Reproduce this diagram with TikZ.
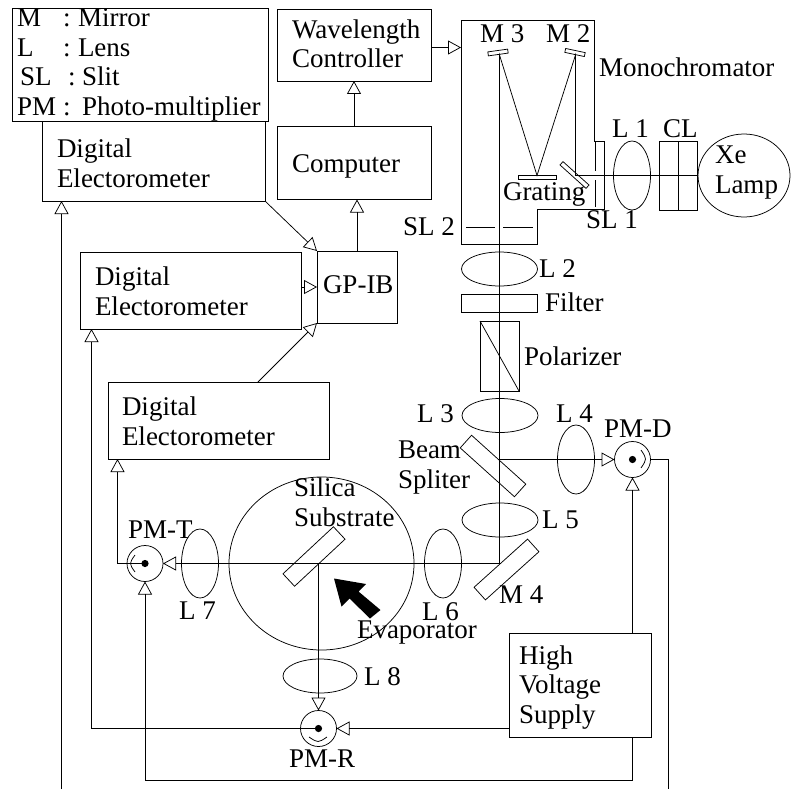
\documentclass[tikz,border=0pt]{standalone}
\usepackage{fontspec}
\setmainfont{Liberation Serif}
\usetikzlibrary{arrows.meta,shapes.geometric}

\begin{document}
\begin{tikzpicture}[x=1pt, y=-1pt, line width=0.75pt, >={Triangle[open,length=13pt,width=14pt]},
	every node/.style={font=\fontsize{27}{29.3}\selectfont, inner sep=0pt, outer sep=0pt},
	lab/.style={anchor=base west, align=left},
	boxnode/.style={draw, rectangle},
	lensh/.style={draw, ellipse, minimum width=76pt, minimum height=34pt},
	lensv/.style={draw, ellipse, minimum width=37pt, minimum height=69pt},
	plate/.style={draw, rectangle, minimum width=#1, minimum height=17pt},
	pm/.style={draw, circle, minimum size=36pt}]
	\useasboundingbox (0,0) rectangle (791,789);
	% instrument boxes
	\foreach \nm/\x/\y/\w/\h in {legend/140/64.5/256/113, de1/153.5/161/223/80, de2/190.5/290.5/221/77, de3/218.5/420.5/221/77, wc/354/45/154/72, comp/354/163/154/73, gp/357/287/80/72, hv/580/685/142/104, cl/678/175.5/38/69, filter/499/303/76/18, pol/499.5/356/39/70}
		{\node[boxnode, minimum width=\w pt, minimum height=\h pt] (\nm) at (\x,\y) {};}
	% lenses, lamp, chamber
	\foreach \nm/\x/\y in {l2/499.5/269, l3/500/415.5, l5/500/520} {\node[lensh] (\nm) at (\x,\y) {};}
	\node[lensh, minimum width=74pt] (l8) at (320,676) {};
	\foreach \nm/\x/\y in {l1/632/175.5, l4/576/459.5, l6/443/563.5, l7/200/563.5} {\node[lensv] (\nm) at (\x,\y) {};}
	\node[draw, ellipse, minimum width=92pt, minimum height=83pt] (xe) at (744,175.5) {};
	\node[draw, ellipse, minimum width=185pt, minimum height=173pt] (chamber) at (321.5,563.5) {};
	% monochromator
	\draw (461.5,20.5) -- (594.5,20.5) -- (594.5,141.5) -- (604.5,141.5) -- (604.5,209.5) -- (537.5,209.5) -- (537.5,244.5) -- (461.5,244.5) -- cycle;
	\draw (595.5,142) -- (595.5,171) (595.5,180) -- (595.5,207);
	\draw (466,227.5) -- (495,227.5) (503,227.5) -- (533,227.5);
	\draw (pol.north west) -- (pol.south east);
	\draw (cl.north) -- (cl.south);
	% mirrors
	\node[plate=20pt, minimum height=4pt, rotate=8] (m3) at (498,52.5) {};
	\node[plate=20pt, minimum height=4pt, rotate=-12] (m2) at (575,52.5) {};
	\node[plate=38pt, minimum height=4pt] (grating) at (537.5,177) {};
	\node[plate=35pt, minimum height=4.5pt, rotate=-42] (m1) at (574.5,175) {};
	\node[plate=73pt, rotate=-42] (splitter) at (493,466) {};
	\node[plate=72pt, rotate=42] (m4) at (506.5,569.5) {};
	\node[plate=69pt, rotate=43] (substrate) at (314,556.5) {};
	% photomultipliers
	\node[pm] (pmt) at (145,563.5) {};
	\node[pm] (pmr) at (318.5,728.5) {};
	\node[pm] (pmd) at (632.5,459.5) {};
	\foreach \nm in {pmt,pmr,pmd} {\fill (\nm.center) circle (3.6pt);}
	\draw (135,555) .. controls (129,563.5) .. (135,572);
	\draw (309,737) .. controls (318,743) .. (327,737);
	\draw (641,450) .. controls (647,459) .. (641,468);
	% light path
	\coordinate (m3hit) at (499.5,55);
	\coordinate (m2hit) at (575.5,55);
	\coordinate (grhit) at (537,175.5);
	\coordinate (m1hit) at (575.5,175.5);
	\coordinate (m4hit) at (499.5,563.5);
	\coordinate (bshit) at (499.5,459.5);
	\coordinate (subhit) at (318.5,563.5);
	\draw (xe.west) -- (m1hit) -- (m2hit) -- (grhit) -- (m3hit) -- (m4hit);
	\draw (bshit) -- (l4.east);
	\draw[->] (l4.east) -- (pmd.west);
	\draw[->] (m4hit) -- (pmt.east);
	\draw[->] (subhit) -- (pmr.north);
	% signal lines
	\coordinate (monoin) at (461,47.5);
	\coordinate (bus1) at (61.5,789);
	\coordinate (bus2) at (668.5,789);
	\coordinate (busb) at (400,780.5);
	\coordinate (pmrout) at (91.5,728.5);
	\coordinate (pmtout) at (117.5,563.5);
	\draw[->] (wc.east |- monoin) -- (monoin);
	\draw[->] (comp.north) -- (wc.south);
	\draw[->] (gp.north) -- (gp.north |- comp.south);
	\draw[->] (de1.south east) -- (gp.north west);
	\draw[->] (de2.east |- gp.west) -- (gp.west);
	\draw[->] ([xshift=39.5pt]de3.north) -- (gp.south west);
	\draw[->] (bus1) -- (bus1 |- de1.south);
	\draw[->] (pmr.center) -- (pmrout) -- (pmrout |- de2.south);
	\draw[->] (pmt.center) -- (pmtout) -- (pmtout |- de3.south);
	\draw[->] (hv.west |- pmr.east) -- (pmr.east);
	\draw[->] (pmd |- hv.north) -- (pmd.south);
	\draw[->] (pmd |- hv.south) -- (pmd |- busb) -- (pmt |- busb) -- (pmt.south);
	\draw (pmd.east) -- (bus2 |- pmd.east) -- (bus2);
	% evaporation arrow
	\fill (334,578.5) -- (366,584) -- (358.5,591.5) -- (380.5,610) -- (370,618.5) -- (349.5,598.5) -- (341.5,606.5) -- cycle;
	% labels
	\foreach \nm/\x/\y/\t in {a1/17/27/M, a2/63/27/:, a3/78/27/Mirror, b1/17/57/L, b2/63/57/:, b3/78/57/Lens, c1/20/86/SL, c2/68/86/:, c3/82/86/Slit, d1/17/115/PM, d2/63/115/:, d3/82/115/Photo-multiplier,
		twc/292/68/{Wavelength\\Controller}, tcomp/292/172/Computer, tde1/57/187/{Digital\\Electorometer}, tde2/95/315/{Digital\\Electorometer}, tde3/122/445/{Digital\\Electorometer}, tgp/323/293/GP-IB,
		tm3/480/43/M 3, tm2/546/43/M 2, tmono/599/77/Monochromator, tl1/612/137/L 1, tcl/663/137/CL, txe/715/193/{Xe\\Lamp}, tgr/503/200/Grating, tsl1/586/228/SL 1, tsl2/403/235/SL 2,
		tl2/539/277/L 2, tfilter/545/311/Filter, tpol/524/365/Polarizer, tl3/417/422/L 3, tl4/556/422/L 4, tpmd/604/437/PM-D, tbeam/398/488/{Beam\\Spliter}, tl5/542/528/L 5, tm4/499/603/M 4,
		tl6/422/620/L 6, tev/357/638/Evaporator, tsil/294/526/{Silica\\Substrate}, tpmt/128/538/PM-T, tl7/179/619/L 7, tl8/364/685/L 8, tpmr/289/767/PM-R, thv/519/723/{High\\Voltage\\Supply}}
		{\node[lab] (\nm) at (\x,\y) {\t};}
\end{tikzpicture}
\end{document}
